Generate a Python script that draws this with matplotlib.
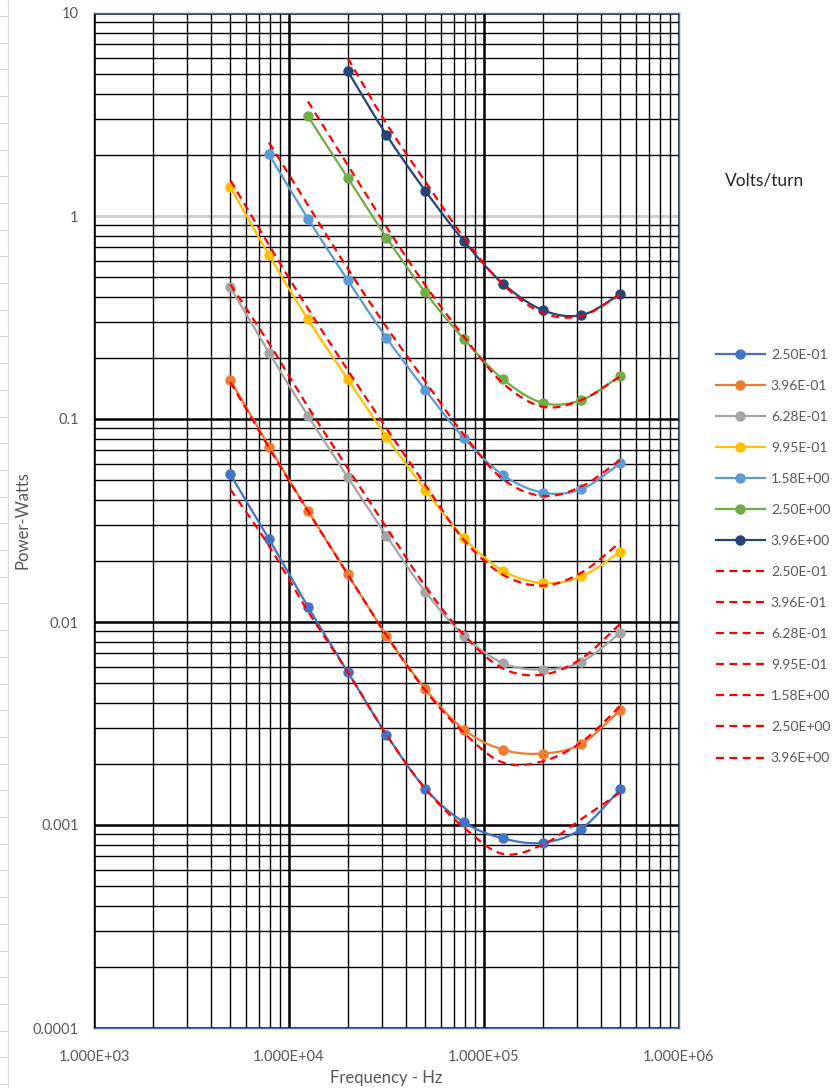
import matplotlib
matplotlib.use("Agg")
import matplotlib.pyplot as plt
import numpy as np
from matplotlib.lines import Line2D
from matplotlib.ticker import FixedLocator, FuncFormatter, LogLocator

plt.rcParams["font.family"] = ["Lato", "DejaVu Sans"]

nan = np.nan

# Test frequencies (Hz)
freq = [5000, 7900, 12500, 20000, 31600, 50000, 79000, 125000, 200000, 316000, 500000]

# Volts/turn for each curve
vt_labels = ["2.50E-01", "3.96E-01", "6.28E-01", "9.95E-01", "1.58E+00", "2.50E+00", "3.96E+00"]

# Measured core loss (W)
meas_025 = [0.0534, 0.0256, 0.0119, 0.00568, 0.00279, 0.00151, 0.00103, 0.000859, 0.000818, 0.000959, 0.00150]
meas_040 = [0.1555, 0.0731, 0.0354, 0.0172, 0.00857, 0.00468, 0.00295, 0.00235, 0.00225, 0.00251, 0.00368]
meas_063 = [0.4445, 0.212, 0.1038, 0.0517, 0.0266, 0.0141, 0.00857, 0.00628, 0.00583, 0.00636, 0.00883]
meas_100 = [1.389, 0.641, 0.310, 0.157, 0.0818, 0.0447, 0.0259, 0.0179, 0.01555, 0.01676, 0.0222]
meas_158 = [nan, 2.01, 0.971, 0.483, 0.251, 0.139, 0.0804, 0.0530, 0.0434, 0.0451, 0.0605]
meas_250 = [nan, nan, 3.10, 1.54, 0.783, 0.420, 0.247, 0.157, 0.120, 0.124, 0.163]
meas_396 = [nan, nan, nan, 5.17, 2.51, 1.33, 0.751, 0.465, 0.344, 0.325, 0.411]

# Calculated core loss (W)
calc_025 = [0.0451, 0.0237, 0.0113, 0.00568, 0.00278, 0.00151, 0.00097, 0.00072, 0.00080, 0.00107, 0.00145]
calc_040 = [0.152, 0.072, 0.0352, 0.0172, 0.0086, 0.0046, 0.00284, 0.00203, 0.00206, 0.00256, 0.00385]
calc_063 = [0.46, 0.236, 0.115, 0.0572, 0.0293, 0.0150, 0.0086, 0.0059, 0.0055, 0.0066, 0.0098]
calc_100 = [1.50, 0.718, 0.350, 0.174, 0.090, 0.0473, 0.0253, 0.0171, 0.0151, 0.0175, 0.0247]
calc_158 = [nan, 2.3, 1.13, 0.551, 0.284, 0.153, 0.0834, 0.0505, 0.0418, 0.0465, 0.0628]
calc_250 = [nan, nan, 3.67, 1.78, 0.883, 0.456, 0.254, 0.150, 0.115, 0.124, 0.162]
calc_396 = [nan, nan, nan, 6.0, 2.85, 1.48, 0.78, 0.46, 0.333, 0.322, 0.41]

measured = [meas_025, meas_040, meas_063, meas_100, meas_158, meas_250, meas_396]
calculated = [calc_025, calc_040, calc_063, calc_100, calc_158, calc_250, calc_396]
colors = ["#4472C4", "#ED7D31", "#A5A5A5", "#FFC000", "#5B9BD5", "#70AD47", "#264478"]

x_ticks = [1e3, 1e4, 1e5, 1e6]
y_ticks = [1e-4, 1e-3, 1e-2, 1e-1, 1, 10]

text_gray = "#595959"
dash = (0, (3.6, 2.4))


def smooth_loglog(x, y, n=24):
    """Catmull-Rom smoothing through the points in log-log space."""
    x = np.asarray(x, float)
    y = np.asarray(y, float)
    ok = ~np.isnan(y)
    lx, ly = np.log10(x[ok]), np.log10(y[ok])
    p = np.column_stack([lx, ly])
    p = np.vstack([2 * p[0] - p[1], p, 2 * p[-1] - p[-2]])
    out = []
    t = np.linspace(0, 1, n, endpoint=False)[:, None]
    for i in range(1, len(p) - 2):
        p0, p1, p2, p3 = p[i - 1], p[i], p[i + 1], p[i + 2]
        seg = 0.5 * ((2 * p1) + (-p0 + p2) * t
                     + (2 * p0 - 5 * p1 + 4 * p2 - p3) * t ** 2
                     + (-p0 + 3 * p1 - 3 * p2 + p3) * t ** 3)
        out.append(seg)
    out.append(p[-2][None, :])
    out = np.vstack(out)
    return 10 ** out[:, 0], 10 ** out[:, 1]


fig = plt.figure(figsize=(8.35, 10.88), dpi=100)
ax = fig.add_axes([94 / 835, 1 - 1028 / 1088, 585 / 835, 1015 / 1088])
ax.set_xscale("log")
ax.set_yscale("log")
ax.set_xlim(1e3, 1e6)
ax.set_ylim(1e-4, 10)

# Grid: heavy decade lines, lighter 2..9 lines
ax.xaxis.set_major_locator(FixedLocator(x_ticks))
ax.yaxis.set_major_locator(FixedLocator(y_ticks))
ax.xaxis.set_minor_locator(LogLocator(base=10, subs=np.arange(2, 10)))
ax.yaxis.set_minor_locator(LogLocator(base=10, subs=np.arange(2, 10)))
ax.grid(which="major", color="black", linewidth=1.8)
ax.grid(which="minor", color="black", linewidth=1.0)
ax.set_axisbelow(True)
# the 1 W line shows up pale, under the vertical grid
ax.axhline(1, color="#D0D0D0", linewidth=2.2, zorder=1)
ax.xaxis.set_zorder(1.2)

ax.xaxis.set_major_formatter(FuncFormatter(lambda v, _: f"{v:.3E}"))
ax.yaxis.set_major_formatter(FuncFormatter(lambda v, _: f"{v:g}"))
ax.xaxis.set_minor_formatter(FuncFormatter(lambda v, _: ""))
ax.yaxis.set_minor_formatter(FuncFormatter(lambda v, _: ""))
ax.tick_params(which="both", length=0, labelsize=10.5, labelcolor=text_gray)
ax.tick_params(axis="x", pad=16)
ax.tick_params(axis="y", pad=11)

for sp in ax.spines.values():
    sp.set_color("#4A6DB0")
    sp.set_linewidth(1.0)
ax.spines["left"].set_color("black")

# Measured curves with markers
handles = []
for vals, col, lab in zip(measured, colors, vt_labels):
    sx, sy = smooth_loglog(freq, vals)
    ax.plot(sx, sy, color=col, linewidth=1.6, zorder=3)
    ax.plot(freq, vals, linestyle="none", marker="o", markersize=6.5,
            color=col, zorder=4)
    handles.append(Line2D([], [], color=col, linewidth=1.6, marker="o",
                          markersize=6.5, label=lab))

# Calculated curves, dashed red
for vals, lab in zip(calculated, vt_labels):
    sx, sy = smooth_loglog(freq, vals)
    ax.plot(sx, sy, color="#FF0000", linewidth=1.6, linestyle=dash, zorder=5)
    handles.append(Line2D([], [], color="#FF0000", linewidth=1.6,
                          linestyle=dash, label=lab))

ax.set_xlabel("Frequency - Hz", fontsize=12, color=text_gray)
ax.xaxis.set_label_coords(0.5, -0.049)
ax.xaxis.label.set_va("center")
ax.set_ylabel("Power-Watts", fontsize=12, color=text_gray)
ax.yaxis.set_label_coords(-0.123, 0.5)
ax.yaxis.label.set_va("center")

leg = fig.legend(handles=handles, loc="upper left",
                 bbox_to_anchor=(716 / 835, 1 - 349 / 1088),
                 frameon=False, fontsize=10, labelcolor=text_gray,
                 handlelength=3.5, handletextpad=0.45, labelspacing=1.37,
                 borderpad=0, borderaxespad=0)

fig.text(765 / 835, 1 - 181 / 1088, "Volts/turn", fontsize=12.5,
         color="#262626", ha="center", va="center")

# Spreadsheet cell edges showing at the left margin
fig.add_artist(Line2D([8 / 835, 8 / 835], [0, 1], transform=fig.transFigure,
                      color="#DADADA", linewidth=0.8))
for yy in np.arange(16, 1088, 26.7):
    fig.add_artist(Line2D([0, 8 / 835], [1 - yy / 1088] * 2,
                          transform=fig.transFigure, color="#DADADA",
                          linewidth=0.8))

fig.savefig("out.png", dpi=100, facecolor="white")
